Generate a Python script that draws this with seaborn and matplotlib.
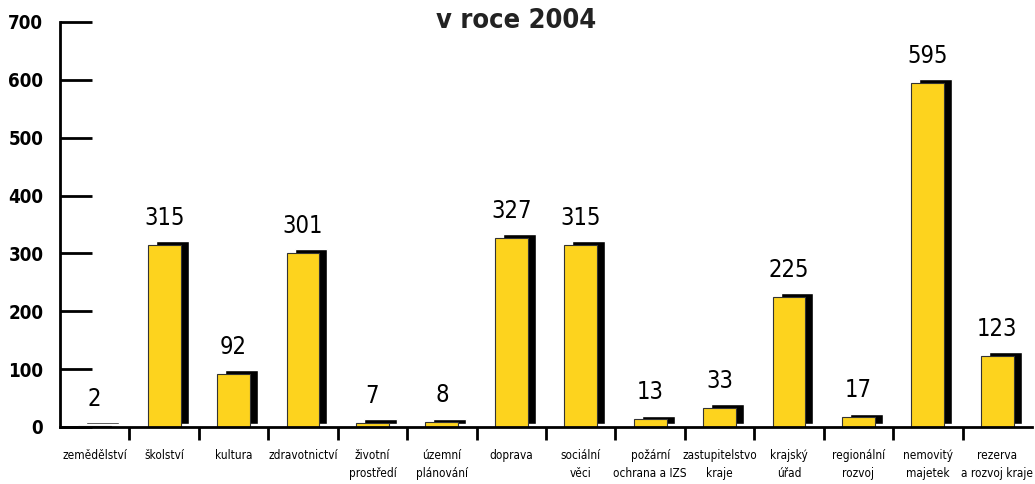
import matplotlib
matplotlib.use("Agg")
import matplotlib.pyplot as plt
import matplotlib.transforms as mtransforms
from matplotlib.ticker import FixedLocator
import seaborn as sns
import numpy as np
import pandas as pd

categories = ["zemědělství", "školství", "kultura", "zdravotnictví", "životní\nprostředí",
              "územní\nplánování", "doprava", "sociální\nvěci", "požární\nochrana a IZS",
              "zastupitelstvo\nkraje", "krajský\núřad", "regionální\nrozvoj",
              "nemovitý\nmajetek", "rezerva\na rozvoj kraje"]
values = [2, 315, 92, 301, 7, 8, 327, 315, 13, 33, 225, 17, 595, 123]
y_ticks = [0, 100, 200, 300, 400, 500, 600, 700]
title = "v roce 2004"

sns.set_theme(style="white")
plt.rcParams['font.family'] = ['DejaVu Sans']

df = pd.DataFrame({"kategorie": categories, "hodnota": values})

fig = plt.figure(figsize=(10.35, 4.84), dpi=100)
ax = fig.add_axes([60 / 1035, 57 / 484, (1032 - 60) / 1035, (462 - 57) / 484])

x = np.arange(len(categories))
width = 0.475
shadow_tr = mtransforms.offset_copy(ax.transData, fig=fig, x=8, y=3.5, units='dots')
ax.bar(x, values, width=width, color="black", transform=shadow_tr, zorder=1)

sns.barplot(data=df, x="kategorie", y="hodnota", color="#FDD31E", saturation=1,
            width=width, edgecolor="#333333", linewidth=0.8, ax=ax, zorder=2)

label_tr = mtransforms.offset_copy(ax.transData, fig=fig, x=0, y=15, units='dots')
for xi, v in zip(x, values):
    ax.text(xi, v, str(v), transform=label_tr, ha="center", va="bottom",
            fontsize=17, color="black", fontstretch="condensed")

ax.set_xlim(-0.5, len(categories) - 0.5)
ax.set_ylim(0, 700)
ax.set_yticks(y_ticks)
ax.set_yticklabels([str(t) for t in y_ticks], fontsize=13.5, fontweight="bold", fontstretch="condensed")
ax.set_xticks(x)
ax.set_xticklabels(categories, fontsize=8.5, linespacing=1.45, fontstretch="condensed")
ax.xaxis.set_minor_locator(FixedLocator(np.arange(0.5, len(categories) - 1, 1.0)))
ax.tick_params(axis="x", which="major", length=0, pad=16, labelcolor="black")
ax.tick_params(axis="x", which="minor", length=9, width=2, direction="out", color="black", bottom=True)
ax.tick_params(axis="y", which="major", length=23, width=2, direction="in", color="black", pad=12,
               left=True, labelcolor="black")
ax.set_xlabel("")
ax.set_ylabel("")

for s in ["top", "right"]:
    ax.spines[s].set_visible(False)
for s in ["left", "bottom"]:
    ax.spines[s].set_linewidth(2)
    ax.spines[s].set_color("black")

fig.text(516 / 1035, 1 - 21 / 484, title, ha="center", va="center", fontsize=19.5,
         fontweight="bold", color="#222222", fontstretch="condensed")

fig.savefig("out.png", dpi=100)
